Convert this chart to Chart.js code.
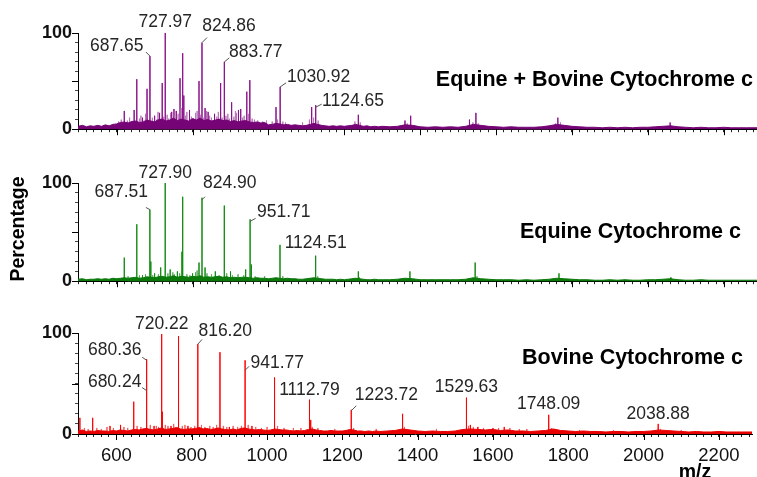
<!DOCTYPE html>
<html>
<head>
<meta charset="utf-8">
<script src="https://cdn.jsdelivr.net/npm/chart.js@4.4.1/dist/chart.umd.min.js"></script>
<style>
  html, body { margin: 0; padding: 0; background: #fff; }
  #wrap { position: relative; width: 757px; height: 477px; overflow: hidden; }
  canvas { position: absolute; left: 0; }
</style>
</head>
<body>
<div id="wrap">
  <canvas id="mix" width="757" height="143" style="top:0px"></canvas>
  <canvas id="eq" width="757" height="152" style="top:143px"></canvas>
  <canvas id="bov" width="757" height="182" style="top:295px"></canvas>
</div>
<script>
// m/z points of the baseline noise band (shared by all three spectra)
const noiseMz = [
  498, 510, 520, 530, 540, 550, 560, 570, 580, 590,
  600, 610, 620, 630, 640, 650, 660, 670, 680, 690,
  700, 710, 720, 730, 740, 750, 760, 770, 780, 790,
  800, 810, 820, 830, 840, 850, 860, 870, 880, 890,
  900, 910, 920, 930, 940, 950, 960, 970, 980, 990,
  1000, 1010, 1020, 1030, 1040, 1050, 1060, 1070, 1080, 1090,
  1100, 1110, 1120, 1130, 1140, 1150, 1160, 1170, 1180, 1190,
  1200, 1210, 1220, 1230, 1240, 1250, 1260, 1270, 1280, 1290,
  1300, 1320, 1340, 1360, 1380, 1400, 1420, 1440, 1460, 1480,
  1500, 1520, 1540, 1560, 1580, 1600, 1620, 1640, 1660, 1680,
  1700, 1720, 1740, 1760, 1780, 1800, 1820, 1840, 1860, 1880,
  1900, 1920, 1940, 1960, 1980, 2000, 2020, 2040, 2060, 2080,
  2100, 2120, 2140, 2160, 2180, 2200, 2220, 2240, 2260, 2280,
  2288
];

// Equine + Bovine mixture
const mixMz = [620, 646, 653, 668, 680, 687.65, 700, 713, 720, 727.97,
  745, 751, 757, 767, 774, 777, 792, 817, 824.86, 833,
  841, 858, 874, 883.77, 903, 921, 927, 943, 951, 1020,
  1030.92, 1114, 1124.65, 1237, 1360, 1375, 1530, 1547, 1763, 2059];
const mixInt = [19, 20, 52, 12, 42, 76, 14, 17, 48, 100,
  18, 21, 19, 53, 79, 35, 20, 50, 90, 22,
  18, 16, 48, 70, 28, 20, 21, 39, 51, 23,
  44, 23, 25, 15, 9, 14, 10, 17, 12, 7];
// small unlabelled signals above the baseline
const mixGrassMz = [605, 612, 628, 634, 640, 660, 664, 672, 676, 694,
  706, 709, 724, 733, 737, 742, 753, 762, 770, 781,
  785, 797, 803, 808, 812, 821, 828, 837, 845, 850,
  864, 868, 878, 888, 893, 897, 909, 913, 916, 932,
  936, 947, 957, 963, 972, 985, 995, 1010, 1024, 1038,
  1045, 1090, 1108, 1119, 1131, 1228, 1242, 1366, 1539, 1553,
  1757, 1770];
const mixGrassInt = [8, 10, 9, 12, 8, 11, 14, 9, 16, 12,
  10, 18, 13, 15, 11, 17, 13, 16, 22, 14,
  18, 13, 11, 17, 19, 15, 12, 19, 14, 12,
  13, 18, 12, 14, 16, 11, 13, 19, 17, 12,
  14, 16, 11, 10, 9, 8, 9, 8, 10, 8,
  7, 7, 10, 12, 9, 8, 7, 6, 7, 6,
  6, 7];
const mixNoise = [
  3, 4, 2.5, 3.5, 3, 4, 3, 4.5, 3.5, 5,
  5.5, 7, 7.5, 6.5, 8, 8.5, 7, 7.5, 9.5, 8.5,
  7.5, 10, 10.5, 8.5, 9.5, 11.5, 9, 10.5, 9.5, 8.5,
  11, 9.5, 11.5, 9, 10, 8.5, 9.5, 10.5, 9, 9.5,
  8, 9, 7.5, 8.5, 9, 7.5, 7, 7.5, 6.5, 7,
  4.5, 5, 6, 5.5, 4.5, 5, 4, 4.5, 4, 3.5,
  4, 5, 6, 5, 4, 3.5, 3, 3.5, 3, 3.5,
  3, 3.5, 4, 5, 4, 3, 3.5, 2.5, 3, 2.5,
  3, 2.5, 3, 4.5, 4, 2.5, 2, 2.5, 2, 2.5,
  2, 3, 5, 4, 3, 2.5, 2, 2.5, 2, 2,
  2, 2.5, 3.5, 5, 4, 3, 2.5, 2, 2, 1.5,
  2, 1.5, 2, 1.5, 2, 2, 2.5, 3, 3.5, 2.5,
  2, 1.5, 2, 1.5, 1.5, 2, 1.5, 1.5, 1.5, 1.5,
  1.5
];
const mixLabels = [687.65, 727.97, 824.86, 883.77, 1030.92, 1124.65];

// Equine cytochrome c
const eqMz = [620, 653, 668, 687.51, 690, 700, 716, 727.90, 741, 760,
  772, 774, 800, 817, 824.90, 833, 860, 883.7, 900, 940,
  951.71, 955, 1030.5, 1124.51, 1237, 1373, 1545, 1766, 2061];
const eqInt = [24, 58, 6, 73, 20, 8, 14, 100, 12, 10,
  30, 86, 8, 19, 85, 14, 10, 77, 10, 12,
  63, 17, 37, 26, 10, 10, 19, 8, 4];
const eqGrassMz = [630, 660, 676, 695, 710, 735, 748, 752, 766, 785,
  793, 808, 812, 838, 850, 870, 890, 905, 920, 935,
  965, 990, 1038, 1130, 1240, 1550];
const eqGrassInt = [5, 6, 7, 6, 7, 8, 9, 7, 8, 7,
  6, 9, 11, 8, 7, 6, 8, 6, 7, 6,
  5, 5, 5, 5, 4, 5];
const eqNoise = [
  2, 2.5, 1.5, 2, 2, 2.5, 2, 2.5, 2, 3,
  2.5, 3, 3.5, 3, 3.5, 4, 3, 3.5, 4.5, 4,
  3.5, 4.5, 5, 4, 4.5, 5.5, 4, 5, 4.5, 4,
  5, 4.5, 5.5, 4, 4.5, 4, 4.5, 5, 4, 4.5,
  3.5, 4, 3.5, 4, 4, 3.5, 3, 3.5, 3, 3,
  2.5, 3, 3.5, 3, 2.5, 3, 2.5, 2.5, 2, 2,
  2.5, 3, 3.5, 3, 2.5, 2, 2, 2, 1.5, 2,
  1.5, 2, 2.5, 3, 2.5, 2, 1.5, 1.5, 2, 1.5,
  1.5, 1.5, 2, 3, 2.5, 1.5, 1.5, 1.5, 1.5, 1.5,
  1.5, 2, 3.5, 2.5, 2, 1.5, 1.5, 1.5, 1, 1.5,
  1, 1.5, 2, 3, 2.5, 2, 1.5, 1.5, 1, 1,
  1.5, 1, 1.5, 1, 1, 1.5, 1.5, 2, 2.5, 1.5,
  1, 1, 1.5, 1, 1, 1, 1, 1, 1, 1,
  1
];
const eqLabels = [687.51, 727.90, 824.90, 951.71, 1124.51];

// Bovine cytochrome c
const bovMz = [503, 537, 583, 611, 646, 680.24, 680.36, 700, 720.22, 722,
  745, 765, 790, 816.20, 875, 900, 941.77, 960, 1020, 1112.79,
  1116, 1223.72, 1360, 1529.63, 1540, 1560, 1600, 1630, 1748.09, 2038.88];
const bovInt = [16, 16, 8, 9, 32, 43, 74, 8, 99, 22,
  8, 97, 8, 89, 81, 7, 73, 8, 56, 34,
  14, 24, 20, 36, 9, 7, 6, 7, 19, 10];
const bovGrassMz = [515, 525, 548, 560, 575, 592, 620, 630, 655, 665,
  690, 706, 712, 730, 737, 752, 775, 782, 798, 808,
  826, 835, 848, 857, 866, 884, 893, 910, 922, 932,
  950, 970, 985, 1000, 1028, 1045, 1070, 1090, 1120, 1135,
  1180, 1230, 1290, 1365, 1450, 1535, 1548, 1575, 1590, 1615,
  1645, 1670, 1690, 1755, 1830, 1920, 2045, 2100];
const bovGrassInt = [6, 5, 6, 5, 7, 6, 7, 6, 8, 7,
  9, 8, 7, 9, 8, 10, 8, 9, 7, 8,
  9, 7, 8, 7, 9, 8, 7, 8, 7, 8,
  9, 7, 6, 7, 8, 6, 6, 6, 7, 6,
  5, 6, 5, 7, 5, 8, 7, 6, 5, 6,
  6, 5, 5, 6, 4, 4, 5, 4];
const bovNoise = [
  3, 4, 2.5, 3, 2.5, 3.5, 3, 3, 2.5, 3.5,
  3, 4, 3.5, 3, 4, 4.5, 4, 5, 5.5, 4.5,
  4, 5, 6, 4.5, 5, 5.5, 6.5, 5, 4.5, 5,
  5, 5.5, 6.5, 5, 5.5, 4.5, 5, 6, 5, 4.5,
  4, 5, 4, 5.5, 6, 5, 4.5, 4, 4.5, 4,
  3.5, 4, 5, 4.5, 4, 4, 3.5, 3, 3.5, 3,
  3.5, 4.5, 5, 4, 3.5, 3, 3, 3.5, 3, 3,
  3, 3.5, 4.5, 4, 3, 3, 2.5, 3, 2.5, 3,
  2.5, 3, 3.5, 5, 4, 3, 2.5, 3, 2.5, 2.5,
  3, 4.5, 5, 4.5, 4, 4.5, 3.5, 4, 3, 3,
  2.5, 3, 3.5, 5, 3.5, 3, 2.5, 3, 2.5, 2.5,
  2, 2.5, 2.5, 2, 2.5, 2.5, 3, 4, 3.5, 3,
  2.5, 2, 2.5, 2, 2, 2.5, 2, 2, 2, 2,
  2
];
const bovLabels = [680.36, 680.24, 720.22, 816.20, 941.77, 1112.79, 1223.72, 1529.63, 1748.09, 2038.88];

// label placement: text offset from the peak top, optional leader line [x0, y0, x1, y1]
const mixLabelPos = [
  { align: 'right', dx: -6.5, dy: -9.8, lead: [-4, -4, 0, 0] },
  { align: 'center', dx: 0, dy: -11 },
  { align: 'left', dx: 0.3, dy: -16, lead: [0, 0, 5, -5] },
  { align: 'left', dx: 4.7, dy: -9.7, lead: [0, 0, 5, -4] },
  { align: 'left', dx: 6.8, dy: -10.2, lead: [0, 0, 6, -4] },
  { align: 'left', dx: 6.3, dy: -3.5, lead: [0, 2, 6, -1] }
];
const eqLabelPos = [
  { align: 'right', dx: -1.9, dy: -17, lead: [-4, -2, 0, 0] },
  { align: 'center', dx: 0, dy: -10 },
  { align: 'left', dx: 1, dy: -15, lead: [0, 2, 3, -1] },
  { align: 'left', dx: 6.9, dy: -7, lead: [0, 2, 5.5, -1] },
  { align: 'center', dx: 0, dy: -12 }
];
const bovLabelPos = [
  { align: 'right', dx: -5.2, dy: -9.3, lead: [-4.5, -2, 0, 1] },
  { align: 'right', dx: -5.2, dy: -8.6, lead: [-4.5, -3, 0, 0] },
  { align: 'center', dx: 0, dy: -10 },
  { align: 'left', dx: 0.6, dy: -13, lead: [0, 0, 4.3, -4.7] },
  { align: 'left', dx: 5.4, dy: 3, lead: [0, 10, 4, 6] },
  { align: 'center', dx: 0, dy: -9.7 },
  { align: 'left', dx: 3.4, dy: -14.8, lead: [0, 1, 5, -4] },
  { align: 'center', dx: 0, dy: -10.3 },
  { align: 'center', dx: 0, dy: -10.8 },
  { align: 'center', dx: 0, dy: -9.9 }
];

const X_MIN = 498, X_MAX = 2288;
const FONT = '"Liberation Sans", Arial, Helvetica, sans-serif';

// each peak becomes a vertical stick: baseline -> top -> baseline
function sticks(mz, inten) {
  const pts = mz.map((m, i) => [m, inten[i]]).sort((a, b) => a[0] - b[0]);
  const out = [];
  pts.forEach(([m, h]) => out.push({ x: m, y: 0 }, { x: m, y: h }, { x: m, y: 0 }));
  return out;
}

function decor(p) {
  return {
    id: 'decor',
    afterDraw(chart) {
      const { ctx, chartArea: a } = chart;
      const x = chart.scales.x, y = chart.scales.y;
      ctx.save();

      // longer marks on the labelled ticks
      ctx.strokeStyle = '#000';
      ctx.lineWidth = 1;
      ctx.beginPath();
      x.ticks.forEach(t => {
        if (t.value % 200 === 0) {
          const px = Math.round(x.getPixelForValue(t.value)) + 0.5;
          ctx.moveTo(px, a.bottom);
          ctx.lineTo(px, a.bottom + 6);
        }
      });
      y.ticks.forEach(t => {
        if (t.value % 50 === 0) {
          const py = Math.round(y.getPixelForValue(t.value)) + 0.5;
          ctx.moveTo(a.left - 6, py);
          ctx.lineTo(a.left, py);
        }
      });
      ctx.stroke();

      // peak annotations
      ctx.font = '17.5px ' + FONT;
      ctx.fillStyle = '#262626';
      ctx.strokeStyle = '#555';
      ctx.textBaseline = 'middle';
      p.labels.forEach((m, i) => {
        const h = p.int[p.mz.indexOf(m)];
        const px = x.getPixelForValue(m);
        const py = y.getPixelForValue(h);
        const pos = p.labelPos[i];
        ctx.textAlign = pos.align;
        ctx.fillText(m.toFixed(2), px + pos.dx, py + pos.dy);
        if (pos.lead) {
          const [x0, y0, x1, y1] = pos.lead;
          ctx.beginPath();
          ctx.moveTo(px + x0, py + y0);
          ctx.lineTo(px + x1, py + y1);
          ctx.stroke();
        }
      });

      // sample name
      ctx.font = 'bold 21.5px ' + FONT;
      ctx.fillStyle = '#000';
      ctx.textAlign = 'right';
      ctx.fillText(p.title, p.titleX, p.titleY);

      if (p.yTitle) {
        ctx.save();
        ctx.translate(18.5, p.yTitleY);
        ctx.rotate(-Math.PI / 2);
        ctx.font = 'bold 19.5px ' + FONT;
        ctx.textAlign = 'center';
        ctx.fillText(p.yTitle, 0, 0);
        ctx.restore();
      }
      if (p.xTitle) {
        ctx.font = 'bold 19.5px ' + FONT;
        ctx.textAlign = 'center';
        ctx.fillText(p.xTitle, 695, p.xTitleY);
      }
      ctx.restore();
    }
  };
}

function panel(id, p) {
  return new Chart(document.getElementById(id), {
    type: 'line',
    data: {
      datasets: [
        {
          data: noiseMz.map((m, i) => ({ x: m, y: p.noise[i] })),
          borderColor: p.band,
          backgroundColor: p.band,
          borderWidth: 1,
          fill: 'origin',
          pointRadius: 0
        },
        {
          data: sticks(p.grassMz, p.grassInt),
          borderColor: p.grass,
          borderWidth: 1,
          fill: false,
          pointRadius: 0
        },
        {
          data: sticks(p.mz, p.int),
          borderColor: p.color,
          borderWidth: 1,
          fill: false,
          pointRadius: 0
        }
      ]
    },
    options: {
      responsive: false,
      animation: false,
      devicePixelRatio: 1,
      layout: { padding: { top: p.top, left: 0, right: 0, bottom: 0 } },
      plugins: { legend: { display: false }, tooltip: { enabled: false } },
      elements: { line: { tension: 0 } },
      scales: {
        x: {
          type: 'linear',
          min: X_MIN,
          max: X_MAX,
          border: { color: '#000', width: 1 },
          grid: { drawOnChartArea: false, tickLength: 3, color: '#222' },
          ticks: {
            display: p.xTicks,
            stepSize: 20,
            maxTicksLimit: 1000,
            autoSkip: false,
            maxRotation: 0,
            includeBounds: false,
            padding: 8,
            color: '#111',
            font: { size: 18.5, family: FONT },
            callback: v => (v % 200 === 0 ? String(v) : '')
          },
          afterFit: s => { s.height = p.xh; }
        },
        y: {
          min: 0,
          max: 100,
          border: { color: '#000', width: 1 },
          grid: { drawOnChartArea: false, tickLength: 3, color: '#444' },
          ticks: {
            stepSize: 10,
            autoSkip: false,
            padding: 3,
            color: '#111',
            font: { size: 18, weight: 'bold', family: FONT },
            callback: v => (v === 0 || v === 100 ? String(v) : '')
          },
          afterFit: s => { s.width = 78; }
        }
      }
    },
    plugins: [decor(p)]
  });
}

panel('mix', {
  mz: mixMz, int: mixInt, noise: mixNoise, grassMz: mixGrassMz, grassInt: mixGrassInt,
  labels: mixLabels, labelPos: mixLabelPos,
  color: '#8a108a', band: '#760476', grass: '#b878b8',
  title: 'Equine + Bovine Cytochrome c', titleX: 753, titleY: 80,
  top: 33, xh: 12, xTicks: false
});
panel('eq', {
  mz: eqMz, int: eqInt, noise: eqNoise, grassMz: eqGrassMz, grassInt: eqGrassInt,
  labels: eqLabels, labelPos: eqLabelPos,
  color: '#118a11', band: '#0b7a0b', grass: '#5aa85a',
  title: 'Equine Cytochrome c', titleX: 741, titleY: 89,
  yTitle: 'Percentage', yTitleY: 86,
  top: 40, xh: 12, xTicks: false
});
panel('bov', {
  mz: bovMz, int: bovInt, noise: bovNoise, grassMz: bovGrassMz, grassInt: bovGrassInt,
  labels: bovLabels, labelPos: bovLabelPos,
  color: '#ff0000', band: '#e80000', grass: '#f06060',
  title: 'Bovine Cytochrome c', titleX: 743, titleY: 63,
  xTitle: 'm/z', xTitleY: 178,
  top: 38, xh: 43, xTicks: true
});
</script>
</body>
</html>
